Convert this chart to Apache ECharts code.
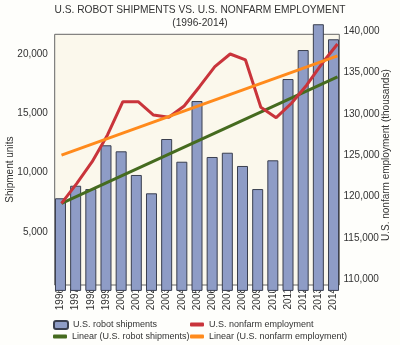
<!DOCTYPE html>
<html>
<head>
<meta charset="utf-8">
<script src="https://cdn.jsdelivr.net/npm/echarts@6/dist/echarts.min.js"></script>
<style>html,body{margin:0;padding:0;background:#fefefb;}#c{width:400px;height:345px;}</style>
</head>
<body>
<div id="c"></div>
<script>
const years = ['1996','1997','1998','1999','2000','2001','2002','2003','2004','2005','2006','2007','2008','2009','2010','2011','2012','2013','2014'];
const robotShipments = [7830, 8890, 8610, 12310, 11800, 9800, 8250, 12840, 10920, 16050, 11320, 11680, 10560, 8610, 11040, 17910, 20360, 22540, 21270];
const nonfarmEmployment = [119180, 121600, 124210, 127440, 131460, 131460, 129850, 129570, 130940, 133270, 135690, 137220, 136500, 130780, 129530, 131270, 133480, 136100, 138430];
const linearRobot = [7400, null, null, null, null, null, null, null, null, null, null, null, null, null, null, null, null, null, 18100];
const linearEmployment = [125000, null, null, null, null, null, null, null, null, null, null, null, null, null, null, null, null, null, 137000];
const leftTicks = [5000, 10000, 15000, 20000];

const FONT = 'Liberation Sans';
const txt = '#333';
const chart = echarts.init(document.getElementById('c'), null, {renderer: 'canvas'});
const legendBase = {padding: 0, itemGap: 0, textStyle: {fontFamily: FONT, fontSize: 9, color: txt}};
const gridBase = {containLabel: false, outerBoundsMode: 'none'};
chart.setOption({
  animation: false,
  backgroundColor: '#fefefb',
  title: {
    text: 'U.S. ROBOT SHIPMENTS VS. U.S. NONFARM EMPLOYMENT\n(1996-2014)',
    left: 'center', top: 4, padding: 0,
    textStyle: {fontFamily: FONT, fontSize: 10.2, fontWeight: 'normal', color: txt, lineHeight: 13}
  },
  legend: [
    Object.assign({}, legendBase, {left: 53, top: 320, itemWidth: 14, itemHeight: 8, data: ['U.S. robot shipments']}),
    Object.assign({}, legendBase, {left: 190, top: 320, itemWidth: 14, itemHeight: 4, data: [{name: 'U.S. nonfarm employment', icon: 'roundRect'}]}),
    Object.assign({}, legendBase, {left: 53, top: 332, itemWidth: 14, itemHeight: 4, data: [{name: 'Linear (U.S. robot shipments)', icon: 'roundRect'}]}),
    Object.assign({}, legendBase, {left: 190, top: 332, itemWidth: 14, itemHeight: 4, data: [{name: 'Linear (U.S. nonfarm employment)', icon: 'roundRect'}]})
  ],
  grid: [
    Object.assign({left: 54.7, right: 60.7, top: 34.3, bottom: 60, show: true, backgroundColor: '#fbf8ec', borderColor: '#666', borderWidth: 1}, gridBase),
    Object.assign({left: 52.9, right: 58.9, top: 54.3, bottom: 60}, gridBase),
    Object.assign({left: 61.5, right: 62.5, top: 31, bottom: 65.7}, gridBase)
  ],
  xAxis: [
    {gridIndex: 0, type: 'value', show: false},
    {gridIndex: 1, type: 'category', data: years, boundaryGap: true,
     axisLine: {show: false}, axisTick: {show: false},
     axisLabel: {rotate: 90, margin: 3, fontFamily: FONT, fontSize: 10, color: txt, interval: 0,
       hideOverlap: false, width: 40, overflow: 'none'}},
    {gridIndex: 2, type: 'category', data: years, boundaryGap: false, show: false}
  ],
  yAxis: [
    {gridIndex: 0, type: 'value', show: false},
    {gridIndex: 1, type: 'value', min: 500, max: 20000, position: 'left',
     name: 'Shipment units', nameLocation: 'middle', nameGap: 38, nameMoveOverlap: false,
     nameTextStyle: {fontFamily: FONT, fontSize: 10, color: txt},
     axisLine: {show: false}, axisTick: {show: false}, splitLine: {show: false},
     axisLabel: {customValues: leftTicks, margin: 5, fontFamily: FONT, fontSize: 10, color: txt,
       formatter: v => v.toLocaleString('en-US')}},
    {gridIndex: 2, type: 'value', min: 110000, max: 140000, interval: 5000, position: 'right',
     name: 'U.S. nonfarm employment (thousands)', nameLocation: 'middle', nameGap: 44, nameMoveOverlap: false,
     nameTextStyle: {fontFamily: FONT, fontSize: 10, color: txt},
     axisLine: {show: false}, axisTick: {show: false}, splitLine: {show: false},
     axisLabel: {margin: 6, fontFamily: FONT, fontSize: 10, color: txt,
       formatter: v => v.toLocaleString('en-US')}},
    {gridIndex: 2, type: 'value', min: 981, max: 21970, show: false}
  ],
  series: [
    {name: 'U.S. robot shipments', type: 'bar', xAxisIndex: 1, yAxisIndex: 1, data: robotShipments,
     barWidth: 11, clip: false,
     itemStyle: {color: '#8e9cc6', borderColor: '#3a3f4f', borderWidth: 1}},
    {name: 'Linear (U.S. robot shipments)', type: 'line', xAxisIndex: 2, yAxisIndex: 3, data: linearRobot,
     connectNulls: true, symbol: 'none', lineStyle: {color: '#456b1f', width: 3}, itemStyle: {color: '#456b1f'}, z: 3},
    {name: 'U.S. nonfarm employment', type: 'line', xAxisIndex: 2, yAxisIndex: 2, data: nonfarmEmployment,
     symbol: 'none', lineStyle: {color: '#c9343b', width: 3}, itemStyle: {color: '#c9343b'}, z: 4},
    {name: 'Linear (U.S. nonfarm employment)', type: 'line', xAxisIndex: 2, yAxisIndex: 2, data: linearEmployment,
     connectNulls: true, symbol: 'none', lineStyle: {color: '#ff8a1c', width: 3}, itemStyle: {color: '#ff8a1c'}, z: 5}
  ]
});
</script>
</body>
</html>
